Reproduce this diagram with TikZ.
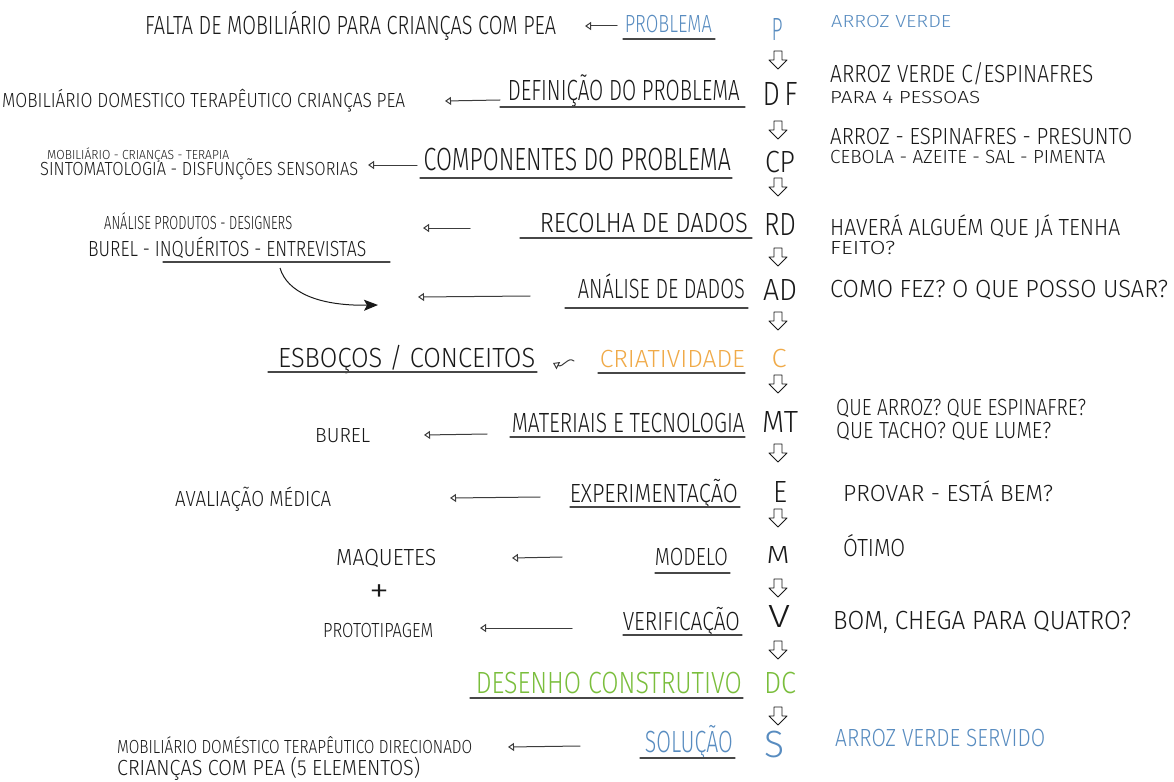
\documentclass[tikz,border=0pt]{standalone}
\usepackage{graphicx}
\usepackage{fontspec}
\setmainfont{Fira Sans}[UprightFont=* Light]
\usetikzlibrary{arrows.meta}
\definecolor{pblue}{RGB}{88,140,192}
\definecolor{porange}{RGB}{240,170,72}
\definecolor{pgreen}{RGB}{122,190,60}
\definecolor{ink}{RGB}{25,25,25}
\newcommand\fw[3]{\resizebox{#1pt}{#2pt}{\vphantom{H}\smash{#3}}}
\begin{document}
\begin{tikzpicture}[x=1pt,y=-1pt,
  lbl/.style={inner sep=0pt, text=ink, anchor=base east},
  outt/.style={inner sep=0pt, text=ink, anchor=base west},
  letter/.style={inner sep=0pt, text=ink, anchor=center},
  uline/.style={draw=ink!80, line width=1.1pt, line cap=round},
  larrow/.style={draw=ink!85, line width=1pt, line cap=round, -{Triangle[open,length=6pt,width=8pt]}},
  curvarrow/.style={draw=ink, line width=1pt, -{Stealth[length=14pt,width=11pt,inset=3pt]}},
  darrow/.pic={\draw[ink, line width=0.9pt, line join=round] (-4,-9) -- (-4,0) -- (-9,0) -- (0,9) -- (9,0) -- (4,0) -- (4,-9) -- cycle;}
]
\fill[white] (0,0) rectangle (1174,781);
\useasboundingbox (0,0) rectangle (1174,781);

% ---- letters column
\node[letter, text=pblue] (P) at (777,30) {\fw{11}{22}{P}};
\node[letter] (DF) at (780,94) {\fw{35}{23}{D\,F}};
\node[letter] (CP) at (780,162) {\fw{30}{21}{CP}};
\node[letter] (RD) at (780,224) {\fw{32}{22}{RD}};
\node[letter] (AD) at (780,290) {\fw{34}{21}{AD}};
\node[letter, text=porange] (C) at (779,358) {\fw{15}{18}{C}};
\node[letter] (MT) at (780,422) {\fw{36}{21}{MT}};
\node[letter] (E) at (780,492) {\fw{14}{21}{E}};
\node[letter] (M) at (778,555) {\fw{23}{17}{M}};
\node[letter] (V) at (779,616) {\fw{22}{22}{V}};
\node[letter, text=pgreen] (DC) at (780,683) {\fw{32}{21}{DC}};
\node[letter, text=pblue] (S) at (774,744) {\fw{20}{26}{S}};

\pic at (778,60) {darrow};
\pic at (778,130) {darrow};
\pic at (778,187) {darrow};
\pic at (778,257) {darrow};
\pic at (778,321) {darrow};
\pic at (778,384) {darrow};
\pic at (778,453) {darrow};
\pic at (778,518) {darrow};
\pic at (778,588) {darrow};
\pic at (778,650) {darrow};
\pic at (778,716) {darrow};

% ---- step labels
\node[lbl, text=pblue] (lP) at (712,33) {\fw{87}{17}{PROBLEMA}};
\node[lbl] (lDF) at (740,100) {\fw{232}{20}{DEFINIÇÃO DO PROBLEMA}};
\node[lbl] (lCP) at (731,170) {\fw{307}{22}{COMPONENTES DO PROBLEMA}};
\node[lbl] (lRD) at (748,232) {\fw{208}{19}{RECOLHA DE DADOS}};
\node[lbl] (lAD) at (745,298) {\fw{167}{19}{ANÁLISE DE DADOS}};
\node[lbl, text=porange] (lC) at (745,367) {\fw{145}{17}{CRIATIVIDADE}};
\node[lbl] (lMT) at (745,432) {\fw{233}{19}{MATERIAIS E TECNOLOGIA}};
\node[lbl] (lE) at (738,502) {\fw{168}{18}{EXPERIMENTAÇÃO}};
\node[lbl] (lM) at (728,565) {\fw{73}{17}{MODELO}};
\node[lbl] (lV) at (740,630) {\fw{117}{18}{VERIFICAÇÃO}};
\node[lbl, text=pgreen] (lDC) at (742,693) {\fw{266}{21}{DESENHO CONSTRUTIVO}};
\node[lbl, text=pblue] (lS) at (733,752) {\fw{88}{21}{SOLUÇÃO}};

\draw[uline] (623,39) -- (715,39);
\draw[uline] (500,107) -- (745,107);
\draw[uline] (420,178) -- (732,178);
\draw[uline] (520,238) -- (752,238);
\draw[uline] (565,308) -- (748,308);
\draw[uline] (598,373) -- (745,373);
\draw[uline] (510,437) -- (745,437);
\draw[uline] (570,507) -- (740,507);
\draw[uline] (655,573) -- (730,573);
\draw[uline] (623,635) -- (742,635);
\draw[uline] (470,698) -- (743,698);
\draw[uline] (640,758) -- (735,758);

% ---- left outputs
\node[outt] (oP) at (145,35) {\fw{411}{18}{FALTA DE MOBILIÁRIO PARA CRIANÇAS COM PEA}};
\node[outt] (oDF) at (2,107) {\fw{403}{14}{MOBILIÁRIO DOMESTICO TERAPÊUTICO CRIANÇAS PEA}};
\node[outt] (oCPa) at (47,159) {\fw{182}{9}{MOBILIÁRIO - CRIANÇAS - TERAPIA}};
\node[outt] (oCPb) at (40,175) {\fw{318}{13}{SINTOMATOLOGIA - DISFUNÇÕES SENSORIAS}};
\node[outt] (oRDa) at (104,229) {\fw{188}{13}{ANÁLISE PRODUTOS - DESIGNERS}};
\node[outt] (oRDb) at (88,256) {\fw{278}{15}{BUREL - INQUÉRITOS - ENTREVISTAS}};
\draw[uline] (163,262) -- (390,262);
\node[outt] (oC) at (278,367) {\fw{257}{19}{ESBOÇOS / CONCEITOS}};
\draw[uline] (268,372) -- (537,372);
\node[outt] (oMT) at (315,442) {\fw{55}{14}{BUREL}};
\node[outt] (oE) at (175,506) {\fw{156}{15}{AVALIAÇÃO MÉDICA}};
\node[outt] (oMa) at (336,565) {\fw{100}{16}{MAQUETES}};
\node[inner sep=0pt, text=ink] (plus) at (379,590) {\fw{20}{24}{+}};
\node[outt] (oMb) at (323,637) {\fw{110}{14}{PROTOTIPAGEM}};
\node[outt] (oSa) at (117,753) {\fw{355}{13}{MOBILIÁRIO DOMÉSTICO TERAPÊUTICO DIRECIONADO}};
\node[outt] (oSb) at (117,775) {\fw{303}{15}{CRIANÇAS COM PEA (5 ELEMENTOS)}};

% ---- arrows
\coordinate (aPs) at (617,26);  \coordinate (aPe) at (585,26);
\coordinate (aDFs) at (500,100); \coordinate (aDFe) at (445,101);
\coordinate (aCPs) at (417,165); \coordinate (aCPe) at (368,165);
\coordinate (aRDs) at (470,228); \coordinate (aRDe) at (423,228);
\coordinate (aADs) at (530,296); \coordinate (aADe) at (418,297);
\coordinate (aCs) at (574,361); \coordinate (aCe) at (553,363);
\coordinate (aMTs) at (487,434); \coordinate (aMTe) at (424,435);
\coordinate (aEs) at (540,497); \coordinate (aEe) at (450,498);
\coordinate (aMs) at (562,557); \coordinate (aMe) at (512,558);
\coordinate (aVs) at (572,628); \coordinate (aVe) at (480,628);
\coordinate (aSs) at (580,746); \coordinate (aSe) at (508,747);
\coordinate (cvs) at (280,268); \coordinate (cve) at (378,305);
\draw[larrow] (aPs) -- (aPe);
\draw[larrow] (aDFs) -- (aDFe);
\draw[larrow] (aCPs) -- (aCPe);
\draw[larrow] (aRDs) -- (aRDe);
\draw[larrow] (aADs) -- (aADe);
\draw[larrow] (aCs) .. controls (568,356) and (563,368) .. (aCe);
\draw[larrow] (aMTs) -- (aMTe);
\draw[larrow] (aEs) -- (aEe);
\draw[larrow] (aMs) -- (aMe);
\draw[larrow] (aVs) -- (aVe);
\draw[larrow] (aSs) -- (aSe);
\draw[curvarrow] (cvs) .. controls (287,292) and (318,306) .. (cve);

% ---- right column notes
\node[outt, text=pblue] (r1) at (831,28) {\fw{120}{12}{ARROZ VERDE}};
\node[outt] (r2a) at (830,83) {\fw{263}{17}{ARROZ VERDE C/ESPINAFRES}};
\node[outt] (r2b) at (830,104) {\fw{150}{12}{PARA 4 PESSOAS}};
\node[outt] (r3a) at (830,144) {\fw{302}{16}{ARROZ - ESPINAFRES - PRESUNTO}};
\node[outt] (r3b) at (830,163) {\fw{275}{13}{CEBOLA - AZEITE - SAL - PIMENTA}};
\node[outt] (r4a) at (830,235) {\fw{290}{16}{HAVERÁ ALGUÉM QUE JÁ TENHA}};
\node[outt] (r4b) at (830,254) {\fw{65}{13}{FEITO?}};
\node[outt] (r5) at (830,297) {\fw{338}{17}{COMO FEZ? O QUE POSSO USAR?}};
\node[outt] (r6a) at (836,415) {\fw{250}{16}{QUE ARROZ? QUE ESPINAFRE?}};
\node[outt] (r6b) at (836,438) {\fw{215}{16}{QUE TACHO? QUE LUME?}};
\node[outt] (r7) at (843,501) {\fw{210}{16}{PROVAR - ESTÁ BEM?}};
\node[outt] (r8) at (843,556) {\fw{62}{17}{ÓTIMO}};
\node[outt] (r9) at (833,629) {\fw{298}{18}{BOM, CHEGA PARA QUATRO?}};
\node[outt, text=pblue] (r10) at (835,746) {\fw{210}{17}{ARROZ VERDE SERVIDO}};
\end{tikzpicture}
\end{document}
